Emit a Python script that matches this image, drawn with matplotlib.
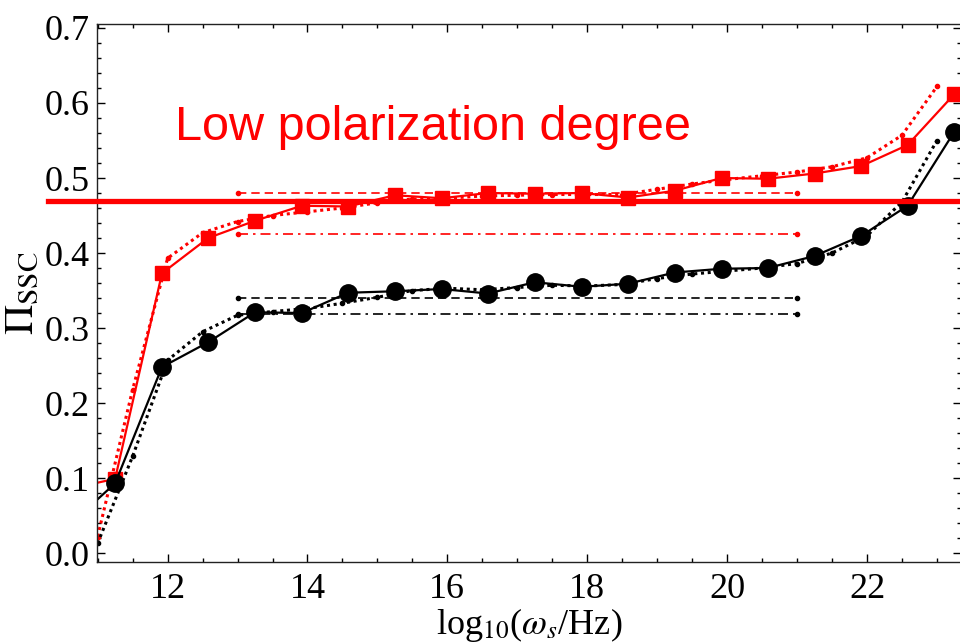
import matplotlib
matplotlib.use("Agg")
import matplotlib.pyplot as plt
from matplotlib.ticker import MultipleLocator

plt.rcParams['font.family'] = ['Liberation Serif', 'DejaVu Serif']
plt.rcParams['mathtext.fontset'] = 'stix'

# solid curves (big markers)
x_solid = [10.58, 11.25, 11.92, 12.58, 13.25, 13.92, 14.58, 15.25, 15.92, 16.58,
           17.25, 17.92, 18.58, 19.25, 19.92, 20.58, 21.25, 21.92, 22.58, 23.25]
red_solid = [0.085, 0.099, 0.373, 0.420, 0.443, 0.463, 0.462, 0.477, 0.473, 0.480,
             0.479, 0.480, 0.474, 0.483, 0.500, 0.499, 0.506, 0.516, 0.544, 0.612]
black_solid = [0.036, 0.093, 0.248, 0.281, 0.321, 0.320, 0.347, 0.349, 0.352, 0.346,
               0.361, 0.355, 0.359, 0.374, 0.379, 0.380, 0.396, 0.423, 0.463, 0.562]

# dotted curves (small markers)
x_dot = [11.0, 11.5, 12.0, 12.5, 13.0, 13.5, 14.0, 14.5, 15.0, 15.5, 16.0, 16.5, 17.0,
         17.5, 18.0, 18.5, 19.0, 19.5, 20.0, 20.5, 21.0, 21.5, 22.0, 22.5, 23.0]
red_dot = [0.022, 0.218, 0.393, 0.427, 0.442, 0.450, 0.455, 0.460, 0.467, 0.472, 0.473,
           0.476, 0.477, 0.478, 0.478, 0.478, 0.485, 0.492, 0.498, 0.503, 0.508, 0.515,
           0.527, 0.557, 0.622]
black_dot = [0.013, 0.129, 0.257, 0.295, 0.317, 0.322, 0.326, 0.333, 0.341, 0.350, 0.353,
             0.351, 0.354, 0.357, 0.356, 0.358, 0.366, 0.372, 0.376, 0.380, 0.386, 0.400,
             0.423, 0.468, 0.550]

# flat reference levels between x=13 and x=21
x_ref = [13.0, 21.0]
red_dashed = 0.480
red_dashdot = 0.426
black_dashed = 0.340
black_dashdot = 0.319

low_level = 0.47

fig = plt.figure(figsize=(9.6, 6.44), dpi=100)
ax = fig.add_axes([0.101, 0.1273, 0.9, 0.8354])

ax.plot(x_ref, [red_dashed] * 2, color='red', lw=1.2, ls=(0, (5, 3)), marker='o', ms=3)
ax.plot(x_ref, [red_dashdot] * 2, color='red', lw=1.2, ls=(0, (6, 3, 1.5, 3)), marker='o', ms=3)
ax.plot(x_ref, [black_dashed] * 2, color='black', lw=1.2, ls=(0, (5, 3)), marker='o', ms=3)
ax.plot(x_ref, [black_dashdot] * 2, color='black', lw=1.2, ls=(0, (6, 3, 1.5, 3)), marker='o', ms=3)

ax.plot(x_dot, red_dot, color='red', lw=2.2, ls=(0, (1, 1.2)), marker='o', ms=3)
ax.plot(x_dot, black_dot, color='black', lw=2.2, ls=(0, (1, 1.2)), marker='o', ms=3)

ax.plot(x_solid, red_solid, color='red', lw=1.6, marker='s', ms=10.5)
ax.plot(x_solid, black_solid, color='black', lw=1.6, marker='o', ms=12.5)

# thick red level, drawn past the left spine like in the original
ax.plot([10.29, 24.0], [low_level] * 2, color='red', lw=3.8, clip_on=False, zorder=5)

ax.text(12.1, 0.568, 'Low polarization degree', color='red', fontsize=35,
        family='Liberation Sans', va='center', ha='left')

ax.set_xlim(10.99, 23.343)
ax.set_ylim(-0.012, 0.7053)
ax.xaxis.set_major_locator(MultipleLocator(2))
ax.xaxis.set_minor_locator(MultipleLocator(0.5))
ax.yaxis.set_major_locator(MultipleLocator(0.1))
ax.yaxis.set_minor_locator(MultipleLocator(0.02))
ax.yaxis.set_major_formatter(plt.FuncFormatter(lambda v, p: f'{v:.1f}'))
ax.tick_params(which='both', direction='in', top=True, right=True, labelsize=26, width=1)
ax.tick_params(which='major', length=6)
ax.tick_params(which='minor', length=3)
ax.tick_params(axis='x', pad=8)
ax.tick_params(axis='y', pad=5)
for s in ax.spines.values():
    s.set_linewidth(1.0)
    s.set_color('#222222')

ax.set_xlabel(r'log$_{10}$($\omega_s$/Hz)', fontsize=26, labelpad=0)
ax.set_ylabel(r'$\Pi_{\rm SSC}$', fontsize=30, labelpad=2)

fig.savefig('out.png', dpi=100)
